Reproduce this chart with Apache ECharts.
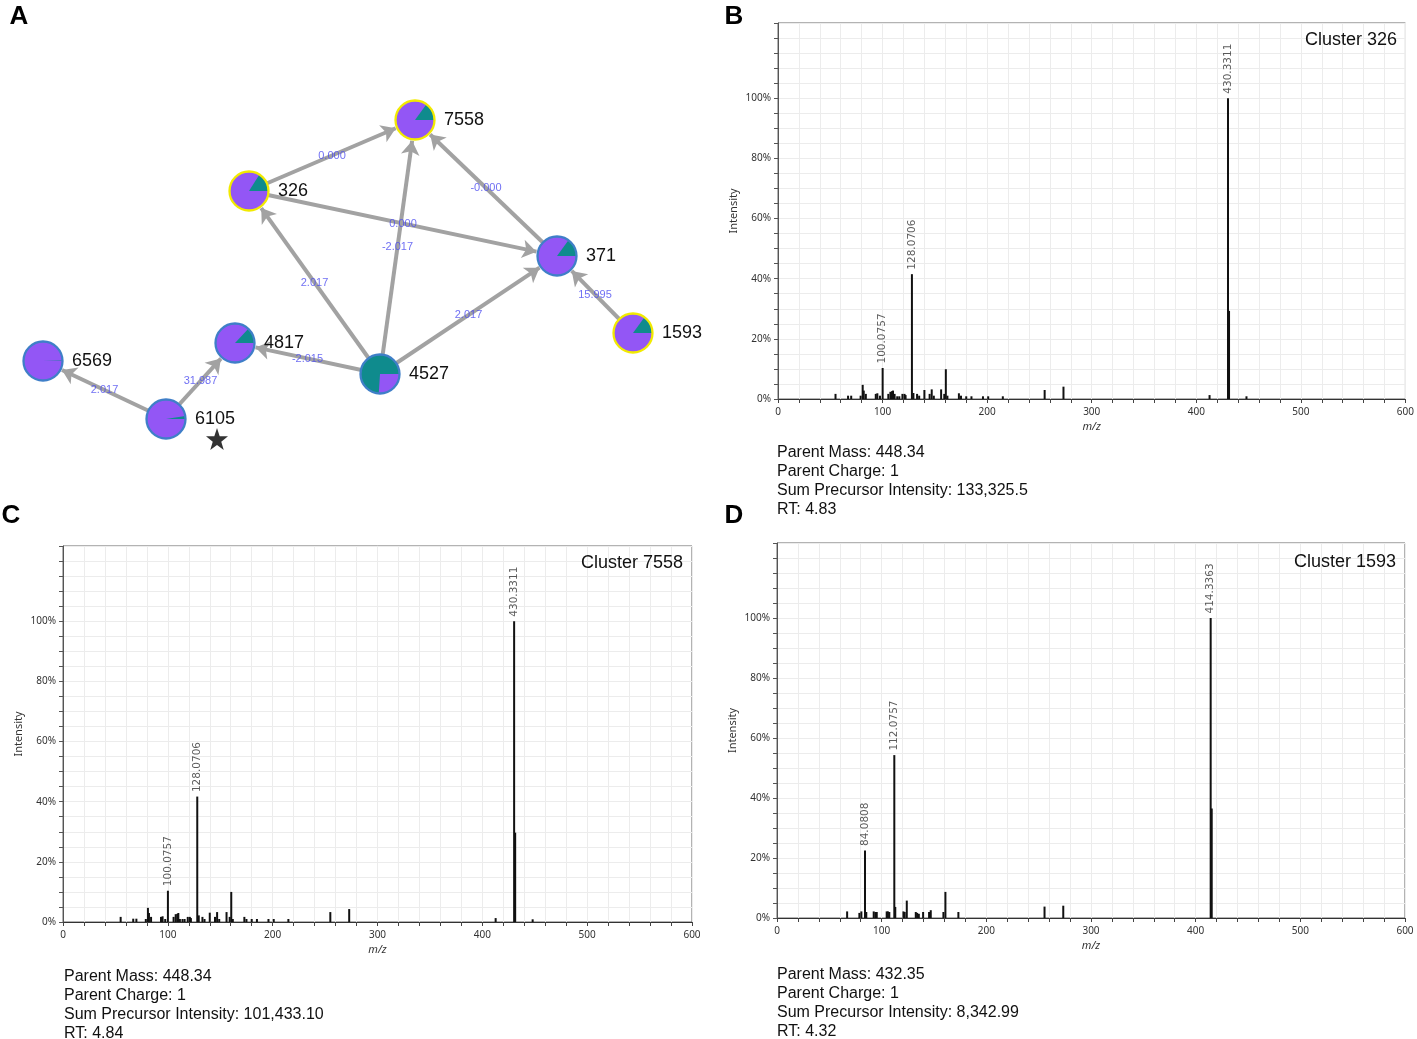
<!DOCTYPE html>
<html><head><meta charset="utf-8">
<script src="https://cdn.jsdelivr.net/npm/echarts@6/dist/echarts.min.js"></script>
<style>html,body{margin:0;padding:0;background:#fff}#c{width:1417px;height:1039px}</style>
</head><body><div id="c"></div>
<script>
// ---------- Panel A: molecular network (layout coordinates) ----------
const nodeIds   = ['7558','326','371','1593','4527','4817','6569','6105'];
const nodeX     = [415, 249, 557, 633, 380, 235, 43, 166];
const nodeY     = [120, 191, 256, 333, 374, 343, 361, 419];
const nodeTeal  = [0.15, 0.16, 0.15, 0.15, 0.74, 0.13, 0.004, 0.025];
const nodeRing  = ['yellow','yellow','blue','yellow','blue','blue','blue','blue'];
const edgeFrom  = ['326','371','326','4527','4527','4527','1593','4527','6105','6105'];
const edgeTo    = ['7558','7558','371','7558','326','371','371','4817','4817','6569'];
const edgeDelta = ['0.000','-0.000','0.000','-2.017','2.017','2.017','15.995','-2.015','31.987','2.017'];
const starAt    = [217, 439];

// ---------- Panel B: Cluster 326 ----------
const specB_mz  = [55,67,70,79,81,82,84,93.5,95,97.5,100.0757,105.5,107.5,109,110,111.5,114,116,119,121,122,128.0706,129.5,133,135,140,145,147,149,156,159,160.5,162,173,175,180,185,196,201,215,255,273,412.7,430.3311,431.33,448];
const specB_int = [1.7,1.1,1.1,1.1,4.7,2.8,1.7,1.7,1.9,1.1,10.3,1.7,2.4,2.6,2.8,1.7,0.9,0.9,1.7,1.7,1.3,41.5,2.0,1.7,1.1,3.0,1.7,3.2,1.1,3.2,1.7,9.9,1.1,1.9,1.1,0.9,0.9,0.9,0.9,0.9,3.0,4.1,1.3,100,29.3,0.9];
const specB_lab = [100.0757,128.0706,430.3311];
const titleB = 'Cluster 326';
const infoB = ['Parent Mass: 448.34','Parent Charge: 1','Sum Precursor Intensity: 133,325.5','RT: 4.83'];

// ---------- Panel C: Cluster 7558 ----------
const specC_mz  = [55,67,70,79,81,82,84,93.5,95,97.5,100.0757,105.5,107.5,109,110,111.5,114,116,119,121,122,128.0706,129.5,133,135,140,145,147,149,156,159,160.5,162,173,175,180,185,196,201,215,255,273,412.7,430.3311,431.33,448];
const specC_int = [1.7,1.1,1.1,1.0,4.7,3.0,1.7,1.7,1.9,1.0,10.4,1.7,2.6,2.7,3.0,1.0,1.0,1.0,1.7,1.7,1.3,41.7,2.2,1.7,1.0,3.1,1.7,3.3,1.0,3.3,1.7,10.0,1.0,1.7,1.0,1.0,1.0,1.0,1.0,1.0,3.3,4.3,1.3,100,29.7,0.9];
const specC_lab = [100.0757,128.0706,430.3311];
const titleC = 'Cluster 7558';
const infoC = ['Parent Mass: 448.34','Parent Charge: 1','Sum Precursor Intensity: 101,433.10','RT: 4.84'];

// ---------- Panel D: Cluster 1593 ----------
const specD_mz  = [67,78.7,80.6,84.0808,85.3,92.4,94,95.3,104.8,106,107.3,112.0757,113,120.8,122,124,132.6,133.9,135.5,139.6,145.3,146.9,159,160.9,173.3,255.6,273.5,414.3363,415.34];
const specD_int = [2.2,1.7,2.2,22.5,2.0,2.2,2.0,2.0,2.2,2.2,2.0,54.3,3.7,2.2,2.0,5.8,2.0,1.7,1.4,2.0,2.0,2.6,2.0,8.7,2.0,3.8,4.1,100,36.5];
const specD_lab = [84.0808,112.0757,414.3363];
const titleD = 'Cluster 1593';
const infoD = ['Parent Mass: 432.35','Parent Charge: 1','Sum Precursor Intensity: 8,342.99','RT: 4.32'];

const xTicks = [0,100,200,300,400,500,600];
const yTicks = [0,20,40,60,80,100];

// ---------------- build chart ----------------
const chart = echarts.init(document.getElementById('c'), null, {renderer:'canvas'});
const FONT = '"Liberation Sans", Arial, sans-serif';
const SMALL = '"Noto Sans", "DejaVu Sans", sans-serif';

const grids = [
  {left:0, top:0, width:700, height:460, show:false},
  {left:778, top:23, width:628, height:376, show:true, borderColor:'#666', borderWidth:1},
  {left:63, top:546, width:629, height:376, show:true, borderColor:'#666', borderWidth:1},
  {left:777, top:543, width:628, height:375, show:true, borderColor:'#666', borderWidth:1}
];

function specX(gi){
  return {gridIndex:gi, type:'value', min:0, max:600, interval:20,
    name:'m/z', nameLocation:'middle', nameGap:22,
    nameTextStyle:{fontStyle:'italic', fontSize:11, color:'#333', fontFamily:SMALL},
    axisLine:{show:true, lineStyle:{color:'#333'}},
    axisTick:{show:true, length:4, lineStyle:{color:'#444'}},
    axisLabel:{fontSize:10, color:'#333', margin:8, fontFamily:SMALL,
      formatter:v => xTicks.indexOf(v) >= 0 ? String(v) : ''},
    splitLine:{show:true, lineStyle:{color:'#ececec', width:1}}};
}
function specY(gi){
  return {gridIndex:gi, type:'value', min:0, max:125, interval:5,
    name:'Intensity', nameLocation:'middle', nameGap:39,
    nameTextStyle:{fontSize:11, color:'#333', fontFamily:SMALL},
    axisLine:{show:true, lineStyle:{color:'#555'}},
    axisTick:{show:true, length:4, lineStyle:{color:'#555'}},
    axisLabel:{fontSize:10, color:'#333', margin:7, fontFamily:SMALL,
      formatter:v => yTicks.indexOf(v) >= 0 ? v + '%' : ''},
    splitLine:{show:true, lineStyle:{color:'#ececec', width:1}}};
}

const xAxes = [{gridIndex:0, type:'value', min:0, max:700, show:false}, specX(1), specX(2), specX(3)];
const yAxes = [{gridIndex:0, type:'value', min:0, max:460, inverse:true, show:false}, specY(1), specY(2), specY(3)];

function specSeries(gi, mz, inten, labs){
  return [
    {type:'bar', xAxisIndex:gi, yAxisIndex:gi, barWidth:2, silent:true,
     itemStyle:{color:'#111'}, data: mz.map((m,i)=>[m, inten[i]])},
    {type:'scatter', xAxisIndex:gi, yAxisIndex:gi, symbolSize:1, silent:true, z:5,
     itemStyle:{color:'rgba(0,0,0,0)'},
     data: labs.map(m => ({value:[m, inten[mz.indexOf(m)]], name:m.toFixed(4)})),
     label:{show:true, position:'top', rotate:90, align:'left', verticalAlign:'middle', distance:4,
       fontSize:10.5, color:'#333', fontFamily:'"DejaVu Sans", sans-serif', formatter:'{b}'}}
  ];
}

const pieData = nodeIds.map((id,i)=>[nodeX[i], nodeY[i], nodeTeal[i], nodeRing[i]==='yellow'?1:0]);
const edgeLabelData = edgeFrom.map((s,i)=>{
  const a = nodeIds.indexOf(s), b = nodeIds.indexOf(edgeTo[i]);
  return {value:[(nodeX[a]+nodeX[b])/2, (nodeY[a]+nodeY[b])/2], name:edgeDelta[i]};
});

const series = [
  {type:'graph', coordinateSystem:'cartesian2d', xAxisIndex:0, yAxisIndex:0, z:3,
   symbolSize:42, silent:true,
   data: nodeIds.map((id,i)=>({name:id, value:[nodeX[i], nodeY[i]]})),
   links: edgeFrom.map((s,i)=>({source:nodeIds.indexOf(s), target:nodeIds.indexOf(edgeTo[i])})),
   itemStyle:{color:'rgba(0,0,0,0)'},
   label:{show:true, position:'right', distance:8, fontSize:18, color:'#111', fontFamily:FONT, formatter:'{b}'},
   edgeSymbol:['none','arrow'], edgeSymbolSize:[0,14],
   lineStyle:{color:'#a2a2a2', width:4, opacity:1, curveness:0}},
  {type:'custom', coordinateSystem:'cartesian2d', xAxisIndex:0, yAxisIndex:0, z:5, silent:true,
   data: pieData,
   renderItem(params, api){
     const c = api.coord([api.value(0), api.value(1)]);
     const f = api.value(2);
     const ring = api.value(3) ? '#f2ea00' : '#3f7fc8';
     const r = 19.5;
     return {type:'group', children:[
       {type:'circle', shape:{cx:c[0], cy:c[1], r:r}, style:{fill:'#9356f5'}},
       {type:'sector', shape:{cx:c[0], cy:c[1], r0:0, r:r, startAngle:-f*2*Math.PI, endAngle:0, clockwise:true}, style:{fill:'#0f8b8d'}},
       {type:'circle', shape:{cx:c[0], cy:c[1], r:r}, style:{fill:'none', stroke:ring, lineWidth:2.3}}
     ]};
   }},
  {type:'scatter', xAxisIndex:0, yAxisIndex:0, symbolSize:1, z:6, silent:true,
   itemStyle:{color:'rgba(0,0,0,0)'}, data: edgeLabelData,
   label:{show:true, position:'inside', formatter:'{b}', color:'#4b4bf0', fontSize:11, fontFamily:FONT}},
  {type:'scatter', xAxisIndex:0, yAxisIndex:0, z:6, silent:true, symbolSize:22,
   symbol:'path://M50,0 L62,35 L99,35 L69,57 L80,92 L50,71 L20,92 L31,57 L1,35 L38,35 Z',
   itemStyle:{color:'#000'}, data:[starAt]},
  ...specSeries(1, specB_mz, specB_int, specB_lab),
  ...specSeries(2, specC_mz, specC_int, specC_lab),
  ...specSeries(3, specD_mz, specD_int, specD_lab)
];

function txt(x, y, text, size, opts){
  return Object.assign({type:'text', x:x, y:y, silent:true, z:100,
    style:Object.assign({text:text, fontSize:size, fontFamily:FONT, fill:'#111', align:'left', verticalAlign:'middle'}, opts||{})});
}
const graphic = [
  txt(19, 17, 'A', 26, {fontWeight:'bold', align:'center', fill:'#000'}),
  txt(734, 17, 'B', 26, {fontWeight:'bold', align:'center', fill:'#000'}),
  txt(11, 516, 'C', 26, {fontWeight:'bold', align:'center', fill:'#000'}),
  txt(734, 516, 'D', 26, {fontWeight:'bold', align:'center', fill:'#000'}),
  txt(1397, 40, titleB, 18, {align:'right'}),
  txt(683, 563, titleC, 18, {align:'right'}),
  txt(1396, 562, titleD, 18, {align:'right'})
];
infoB.forEach((t,i)=>graphic.push(txt(777, 453 + i*19, t, 16)));
infoC.forEach((t,i)=>graphic.push(txt(64, 977 + i*19, t, 16)));
infoD.forEach((t,i)=>graphic.push(txt(777, 975 + i*18.7, t, 16)));

chart.setOption({
  animation:false,
  backgroundColor:'#fff',
  textStyle:{fontFamily:FONT},
  grid:grids, xAxis:xAxes, yAxis:yAxes, series:series, graphic:graphic
});
</script></body></html>
